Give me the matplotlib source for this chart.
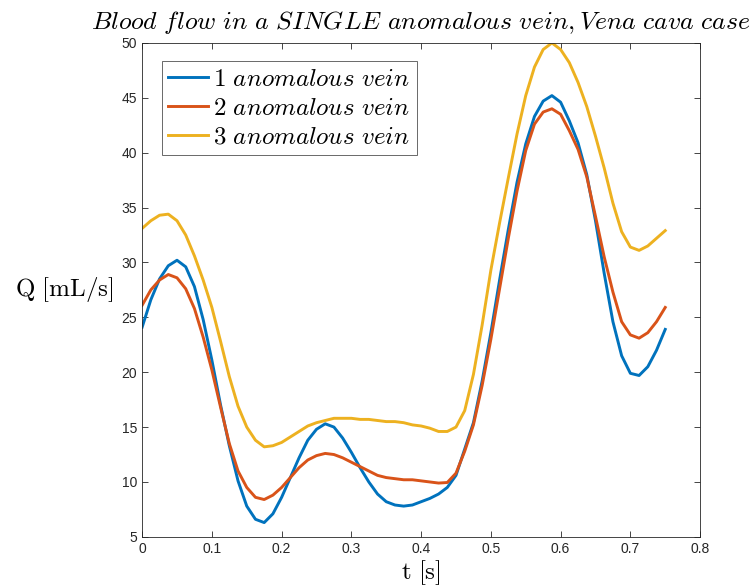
import numpy as np
import matplotlib
matplotlib.use('Agg')
import matplotlib.pyplot as plt

plt.rcParams['font.family'] = ['Liberation Sans', 'DejaVu Sans']
plt.rcParams['mathtext.fontset'] = 'cm'

# time [s], values (every 0.0125 s)
t = np.arange(61) * 0.0125

q_one = [24.1, 26.6, 28.5, 29.7, 30.2, 29.6, 27.8, 24.8, 21.1, 17.0,
         13.3, 10.1, 7.8, 6.6, 6.3, 7.1, 8.6, 10.4, 12.2, 13.8,
         14.8, 15.3, 15.0, 14.0, 12.7, 11.3, 10.0, 8.9, 8.2, 7.9,
         7.8, 7.9, 8.2, 8.5, 8.9, 9.5, 10.6, 13.0, 15.4, 19.2,
         23.6, 28.4, 33.0, 37.3, 40.8, 43.3, 44.7, 45.2, 44.6, 42.9,
         40.9, 38.0, 33.8, 29.0, 24.6, 21.5, 19.9, 19.7, 20.5, 22.0,
         23.9]

q_two = [26.1, 27.5, 28.4, 28.9, 28.6, 27.6, 25.8, 23.2, 20.2, 16.8,
         13.5, 11.0, 9.5, 8.6, 8.4, 8.8, 9.5, 10.4, 11.3, 12.0,
         12.4, 12.6, 12.5, 12.2, 11.8, 11.4, 11.0, 10.6, 10.4, 10.3,
         10.2, 10.2, 10.1, 10.0, 9.9, 9.95, 10.8, 12.8, 15.2, 18.8,
         23.0, 27.6, 32.2, 36.5, 40.2, 42.6, 43.7, 44.0, 43.5, 42.0,
         40.3, 37.8, 34.2, 30.5, 27.3, 24.6, 23.4, 23.1, 23.6, 24.6,
         25.9]

q_three = [33.1, 33.8, 34.3, 34.4, 33.8, 32.5, 30.6, 28.4, 25.9, 22.8,
           19.6, 16.9, 15.0, 13.8, 13.2, 13.3, 13.6, 14.1, 14.6, 15.1,
           15.4, 15.6, 15.8, 15.8, 15.8, 15.7, 15.7, 15.6, 15.5, 15.5,
           15.4, 15.2, 15.1, 14.9, 14.6, 14.6, 15.0, 16.5, 19.8, 24.3,
           29.3, 33.6, 37.7, 41.7, 45.2, 47.8, 49.4, 50.0, 49.4, 48.2,
           46.4, 44.2, 41.5, 38.6, 35.4, 32.8, 31.4, 31.1, 31.5, 32.2,
           32.9]

labels = [r'$1\ anomalous\ vein$', r'$2\ anomalous\ vein$', r'$3\ anomalous\ vein$']
colors = ['#0072BD', '#D95319', '#EDB120']

fig = plt.figure(figsize=(7.52, 5.88), dpi=100)
ax = fig.add_axes([0.189, 0.087, 0.742, 0.840])

for q, lab, c in zip([q_one, q_two, q_three], labels, colors):
    ax.plot(t, q, color=c, linewidth=2.1, label=lab)

ax.set_xlim(0, 0.8)
ax.set_ylim(5, 50)
ax.set_xticks(np.arange(0, 0.81, 0.1))
ax.set_xticklabels(['0', '0.1', '0.2', '0.3', '0.4', '0.5', '0.6', '0.7', '0.8'])
ax.set_yticks(np.arange(5, 51, 5))
ax.tick_params(direction='in', top=True, right=True, length=4, width=0.6,
               colors='#262626', labelsize=10)
for s in ax.spines.values():
    s.set_color('#262626')
    s.set_linewidth(0.6)

ax.set_title(r'$Blood\ flow\ in\ a\ SINGLE\ anomalous\ vein, Vena\ cava\ case$',
             fontsize=18.5, pad=10)
ax.set_xlabel(r'$\mathrm{t\ [s]}$', fontsize=18, labelpad=2)
ax.set_ylabel(r'$\mathrm{Q\ [mL/s]}$', fontsize=18, rotation=0)
ax.yaxis.label.set_va('center')
ax.yaxis.set_label_coords(-0.14, 0.5)

leg = ax.legend(loc='upper left', fontsize=18, handlelength=1.6, handletextpad=0.2,
                labelspacing=0.2, borderpad=0.25, fancybox=False,
                bbox_to_anchor=(0.036, 0.964), borderaxespad=0)
leg.get_frame().set_edgecolor('#262626')
leg.get_frame().set_linewidth(0.6)

fig.savefig('out.png', dpi=100)
